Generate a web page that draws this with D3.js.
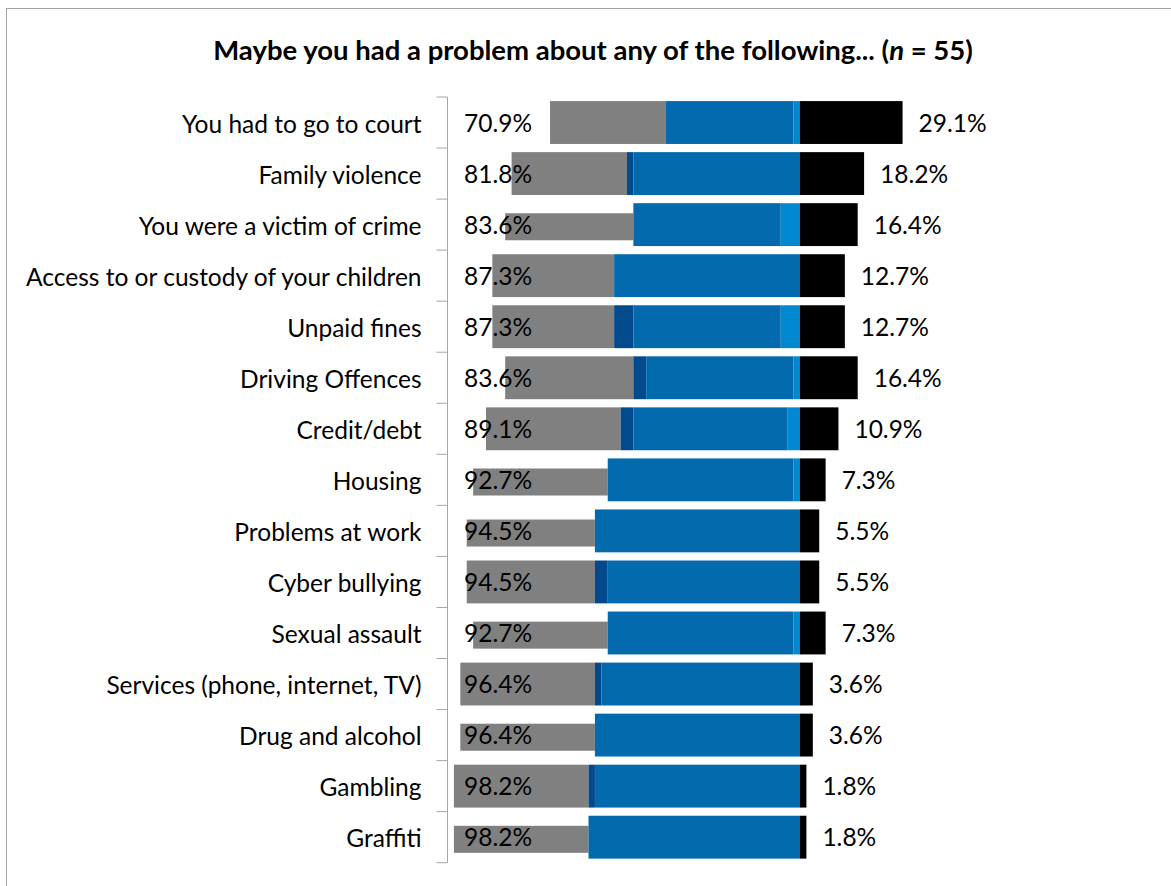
<!DOCTYPE html>
<html>
<head>
<meta charset="utf-8">
<script src="https://cdn.jsdelivr.net/npm/d3@7"></script>
<style>
  html, body { margin: 0; padding: 0; background: #fff; }
  svg { display: block; }
  text { font-family: Lato, "Open Sans", sans-serif; fill: #000; }
</style>
</head>
<body>
<svg id="chart" width="1171" height="886"></svg>
<script>
// Survey respondents (n = 55): counts per answer group for each problem type.
const sampleSize = 55;

const categories = [
  "You had to go to court",
  "Family violence",
  "You were a victim of crime",
  "Access to or custody of your children",
  "Unpaid fines",
  "Driving Offences",
  "Credit/debt",
  "Housing",
  "Problems at work",
  "Cyber bullying",
  "Sexual assault",
  "Services (phone, internet, TV)",
  "Drug and alcohol",
  "Gambling",
  "Graffiti"
];

// "No" side of the chart, split into four groups (counts of respondents)
const noGroupA = [18, 18, 20, 19, 19, 20, 21, 21, 20, 20, 21, 21, 21, 21, 21];
const noGroupB = [0, 1, 0, 0, 3, 2, 2, 0, 0, 2, 0, 1, 0, 1, 0];
const noGroupC = [20, 26, 23, 29, 23, 23, 24, 29, 32, 30, 29, 31, 32, 32, 33];
const noGroupD = [1, 0, 3, 0, 3, 1, 2, 1, 0, 0, 1, 0, 0, 0, 0];

// "Yes" side of the chart (counts of respondents)
const yesCounts = [16, 10, 9, 7, 7, 9, 6, 4, 3, 3, 4, 2, 2, 1, 1];

// Rows whose first group is drawn as a slimmer bar
const slimRows = new Set([
  "You were a victim of crime", "Housing", "Problems at work",
  "Sexual assault", "Drug and alcohol", "Graffiti"
]);

const groupColors = ["#808080", "#034a8c", "#036aad", "#0089d1"];
const yesColor = "#000000";

const pct = c => c / sampleSize * 100;
const fmt = v => d3.format(".1f")(v) + "%";

const rows = categories.map((name, i) => {
  const parts = [noGroupA[i], noGroupB[i], noGroupC[i], noGroupD[i]].map(pct);
  const noTotal = d3.sum([noGroupA[i], noGroupB[i], noGroupC[i], noGroupD[i]]);
  // stack the "no" groups leftwards so the last group touches the centre line
  let end = 0;
  const segs = [];
  for (let k = parts.length - 1; k >= 0; k--) {
    segs.unshift({ k, x0: end - parts[k], x1: end });
    end -= parts[k];
  }
  return { name, segs, noPct: pct(noTotal), yesPct: pct(yesCounts[i]) };
});

const svg = d3.select("#chart");
const W = 1171, H = 886;
const labelSize = "24.5px";

// chart area frame
svg.append("rect")
  .attr("x", 6.5).attr("y", 8.5)
  .attr("width", W + 20).attr("height", H + 20)
  .attr("fill", "#fff").attr("stroke", "#a6a6a6").attr("stroke-width", 1);

// title
const title = svg.append("text")
  .attr("x", 593).attr("y", 60)
  .attr("text-anchor", "middle")
  .style("font-size", "27.5px").style("font-weight", 700);
title.append("tspan").text("Maybe you had a problem about any of the following... (");
title.append("tspan").style("font-style", "italic").text("n");
title.append("tspan").text(" = 55)");

const x = d3.scaleLinear().domain([-100, 100]).range([447.5, 1152.5]);
const y = d3.scaleBand().domain(categories).range([97, 862.7])
  .paddingInner(0.16).paddingOuter(0.08);

// bars
const rowG = svg.append("g").selectAll("g").data(rows).join("g")
  .attr("transform", d => `translate(0,${y(d.name)})`);

const bw = y.bandwidth();
rowG.selectAll("rect.no").data(d => d.segs.filter(s => s.x1 > s.x0).map(s => ({ ...s, slim: s.k === 0 && slimRows.has(d.name) })))
  .join("rect").attr("class", "no")
  .attr("x", s => x(s.x0))
  .attr("width", s => x(s.x1) - x(s.x0))
  .attr("y", s => s.slim ? bw * 0.235 : 0)
  .attr("height", s => s.slim ? bw * 0.63 : bw)
  .attr("fill", s => groupColors[s.k]);

rowG.append("rect")
  .attr("x", x(0))
  .attr("width", d => x(d.yesPct) - x(0))
  .attr("height", bw)
  .attr("fill", yesColor);

// value labels
rowG.append("text")
  .attr("x", 464).attr("y", bw / 2 + 3)
  .attr("dominant-baseline", "middle")
  .style("font-size", labelSize)
  .text(d => fmt(d.noPct));

rowG.append("text")
  .attr("x", d => x(d.yesPct) + 16).attr("y", bw / 2 + 3)
  .attr("dominant-baseline", "middle")
  .style("font-size", labelSize)
  .text(d => fmt(d.yesPct));

// category axis
const axisX = x(-100);
const axisG = svg.append("g").attr("transform", `translate(${axisX},0)`)
  .call(d3.axisLeft(y).tickSize(0).tickPadding(26));
axisG.select(".domain").remove();
axisG.selectAll("text")
  .style("font-family", "Lato, 'Open Sans', sans-serif")
  .style("font-size", labelSize).attr("fill", "#000").attr("dy", "0.42em");

const [r0, r1] = y.range();
svg.append("line")
  .attr("x1", axisX).attr("x2", axisX).attr("y1", r0).attr("y2", r1)
  .attr("stroke", "#a6a6a6");
svg.append("g").selectAll("line")
  .data(d3.range(categories.length + 1))
  .join("line")
  .attr("x1", axisX - 11).attr("x2", axisX)
  .attr("y1", i => r0 + i * (r1 - r0) / categories.length)
  .attr("y2", i => r0 + i * (r1 - r0) / categories.length)
  .attr("stroke", "#a6a6a6");
</script>
</body>
</html>
